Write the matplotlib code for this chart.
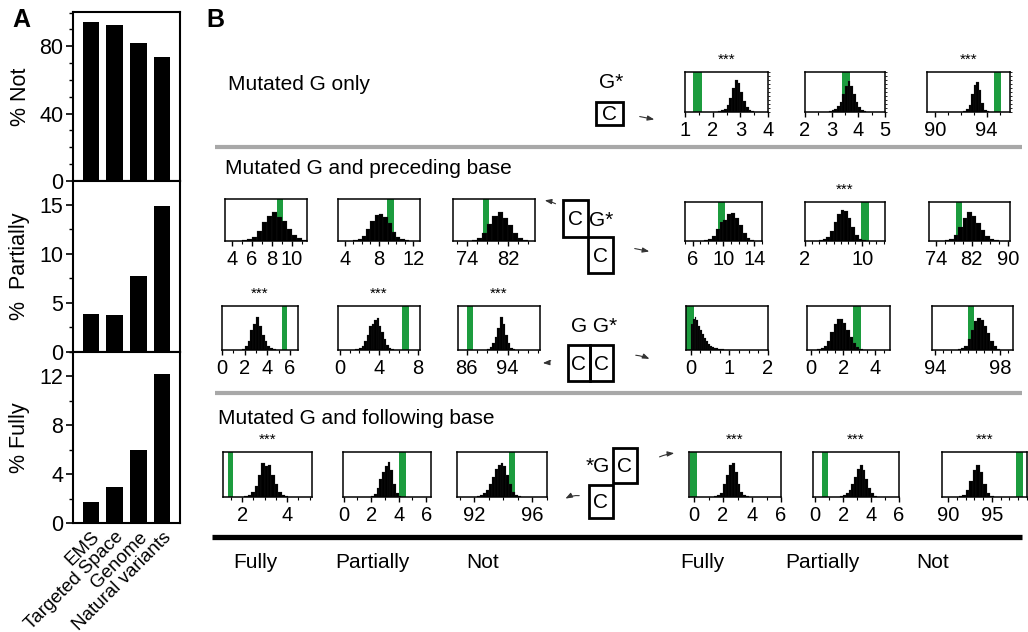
import numpy as np
import matplotlib
matplotlib.use('Agg')
import matplotlib.pyplot as plt
from matplotlib.ticker import MultipleLocator, FixedLocator
from matplotlib.patches import Rectangle

plt.rcParams['font.family'] = ['Liberation Sans', 'DejaVu Sans']

W, H = 1028, 632

# ---- panel A data ----
sources = ['EMS', 'Targeted Space', 'Genome', 'Natural variants']
pct_not = [94.6, 92.3, 81.9, 73.6]
pct_partially = [3.9, 3.8, 7.7, 14.9]
pct_fully = [1.7, 2.95, 5.96, 12.2]

# ---- panel B data: 21 null histograms + observed value band ----
# order: G only (right), CG* (left, right), GG* (left, right), *GC (left, right)
# each triple is Fully / Partially / Not
hist_start = [2.2, 2.9, 92.2,
              5.0, 5.0, 75, 7.5, 4.0, 76,
              1.75, 1.5, 90, 0.0, 0.4, 95.4,
              2.1, 2.0, 92.2, 1.4, 1.8, 91.2]
hist_width = [0.1, 0.1, 0.2,
              0.5, 0.5, 1, 0.5, 0.5, 1,
              0.25, 0.25, 0.5, 0.05, 0.2, 0.2,
              0.15, 0.2, 0.2, 0.2, 0.2, 0.4]
hist_counts = [
    [0.02, 0.04, 0.08, 0.18, 0.35, 0.6, 0.79, 0.72, 0.5, 0.28, 0.12, 0.04, 0.02],
    [0.02, 0.04, 0.08, 0.14, 0.26, 0.45, 0.65, 0.78, 0.66, 0.45, 0.26, 0.12, 0.05, 0.02],
    [0.03, 0.07, 0.18, 0.45, 0.68, 0.75, 0.55, 0.22, 0.06, 0.02],
    [0.03, 0.05, 0.1, 0.25, 0.45, 0.6, 0.68, 0.58, 0.48, 0.28, 0.15, 0.06, 0.02],
    [0.02, 0.05, 0.12, 0.28, 0.48, 0.62, 0.65, 0.58, 0.42, 0.22, 0.1, 0.04, 0.02],
    [0.03, 0.08, 0.2, 0.4, 0.6, 0.7, 0.55, 0.38, 0.2, 0.08, 0.03],
    [0.03, 0.05, 0.12, 0.3, 0.5, 0.55, 0.68, 0.72, 0.6, 0.4, 0.2, 0.08, 0.03],
    [0.02, 0.04, 0.1, 0.25, 0.5, 0.7, 0.8, 0.78, 0.6, 0.35, 0.15, 0.05, 0.02],
    [0.03, 0.06, 0.15, 0.35, 0.6, 0.75, 0.65, 0.45, 0.28, 0.12, 0.05, 0.02],
    [0.03, 0.08, 0.2, 0.45, 0.6, 0.75, 0.55, 0.35, 0.2, 0.1, 0.04, 0.02],
    [0.02, 0.03, 0.05, 0.1, 0.2, 0.35, 0.55, 0.6, 0.68, 0.72, 0.55, 0.4, 0.25, 0.12, 0.05, 0.02],
    [0.03, 0.06, 0.15, 0.3, 0.5, 0.75, 0.6, 0.35, 0.15, 0.05, 0.02],
    [0.6, 0.7, 0.75, 0.68, 0.55, 0.45, 0.36, 0.28, 0.2, 0.14, 0.1, 0.07, 0.05, 0.04,
     0.03, 0.02, 0.02, 0.01, 0.01, 0.01],
    [0.02, 0.04, 0.08, 0.2, 0.4, 0.6, 0.7, 0.7, 0.62, 0.45, 0.3, 0.15, 0.06, 0.03, 0.01],
    [0.02, 0.04, 0.1, 0.25, 0.45, 0.65, 0.72, 0.68, 0.55, 0.38, 0.2, 0.08, 0.03],
    [0.02, 0.05, 0.12, 0.25, 0.5, 0.75, 0.68, 0.72, 0.5, 0.3, 0.12, 0.05, 0.02],
    [0.03, 0.07, 0.2, 0.4, 0.55, 0.7, 0.78, 0.6, 0.3, 0.1, 0.03],
    [0.02, 0.04, 0.08, 0.15, 0.28, 0.45, 0.62, 0.72, 0.75, 0.7, 0.5, 0.3, 0.12, 0.04, 0.02],
    [0.02, 0.04, 0.1, 0.3, 0.5, 0.72, 0.75, 0.55, 0.3, 0.12, 0.04, 0.02],
    [0.02, 0.04, 0.08, 0.15, 0.3, 0.45, 0.62, 0.72, 0.6, 0.4, 0.2, 0.08, 0.03],
    [0.02, 0.05, 0.15, 0.35, 0.6, 0.72, 0.55, 0.3, 0.1, 0.03],
]
observed = [(1.28, 1.6), (3.38, 3.69), (94.6, 95.1),
            (8.5, 9.1), (8.94, 9.76), (77.2, 78.4), (9.3, 10.2), (9.9, 10.9), (78.5, 79.8),
            (5.3, 5.75), (6.4, 7.1), (86.0, 87.2), (-0.12, 0.08), (2.6, 3.1), (96.0, 96.4),
            (1.38, 1.6), (4.05, 4.5), (94.4, 94.8), (-0.27, 0.2), (0.5, 0.9), (97.7, 98.6)]
significant = [True, False, True,
               False, False, False, False, True, False,
               True, True, True, False, False, False,
               True, False, False, True, True, True]
x_ranges = [(1, 4), (2, 5), (89.4, 95.8),
            (3.3, 11.5), (3.2, 12.8), (71.3, 87.3), (5, 15), (2, 13.2), (72.5, 90.5),
            (0, 6.7), (-0.2, 8.2), (84.3, 100.3), (-0.12, 2.0), (-0.25, 4.9), (93.8, 98.8),
            (1.15, 5.1), (-0.05, 6.35), (90.8, 97.0), (-0.35, 5.95), (-0.15, 5.95), (89.3, 99.0)]
x_ticks = [[1, 2, 3, 4], [2, 3, 4, 5], [90, 94],
           [4, 6, 8, 10], [4, 8, 12], [74, 82], [6, 10, 14], [2, 10], [74, 82, 90],
           [0, 2, 4, 6], [0, 4, 8], [86, 94], [0, 1, 2], [0, 2, 4], [94, 98],
           [2, 4], [0, 2, 4, 6], [92, 96], [0, 2, 4, 6], [0, 2, 4, 6], [90, 95]]
minor_step = [0.5, 0.5, 1, 1, 1, 2, 1, 1, 2, 1, 1, 2, 0.25, 0.5, 0.5, 0.5, 1, 1, 1, 1, 1]

# ---- layout (pixels) ----
box_x = [(685, 768), (805, 885), (927, 1010),
         (225, 307), (338, 420), (453, 535), (685, 762), (805, 885), (929, 1010),
         (222, 298), (338, 420), (458, 540), (686, 768), (807, 890), (932, 1013),
         (223, 312), (343, 431), (457, 547), (689, 781), (813, 899), (942, 1027)]
box_y = [(72, 112)] * 3 + [(199, 241)] * 3 + [(202, 241)] * 3 + \
        [(306, 350)] * 6 + [(452, 497)] * 6

GREEN = '#1c9c3e'
GRAY = '#a8a8a8'


def px_rect(x0, x1, y0, y1):
    return [x0 / W, 1 - y1 / H, (x1 - x0) / W, (y1 - y0) / H]


fig = plt.figure(figsize=(W / 100, H / 100), dpi=100)

# overlay for annotation drawing in pixel coordinates
ov = fig.add_axes([0, 0, 1, 1])
ov.set_xlim(0, W)
ov.set_ylim(H, 0)
ov.axis('off')

# ---- panel A ----
xpos = np.arange(len(sources))
panelA = [(pct_not, (12, 181), 100.3, [0, 40, 80], 10, '% Not'),
          (pct_partially, (181, 352), 17.4, [0, 5, 10, 15], 2.5, '%  Partially'),
          (pct_fully, (352, 523), 14.0, [0, 4, 8, 12], 2, '% Fully')]
for i, (vals, (y0, y1), top, ticks, mstep, lab) in enumerate(panelA):
    ax = fig.add_axes(px_rect(73, 180, y0, y1))
    ax.bar(xpos, vals, width=0.69, color='black')
    ax.set_xlim(-0.75, 3.75)
    ax.set_ylim(0, top)
    ax.yaxis.set_major_locator(FixedLocator(ticks))
    ax.yaxis.set_minor_locator(MultipleLocator(mstep))
    ax.tick_params(axis='y', which='major', length=5, width=1.2, labelsize=15.5, pad=2)
    ax.tick_params(axis='y', which='minor', length=3, width=1)
    for s in ax.spines.values():
        s.set_linewidth(1.5)
    if i < 2:
        ax.set_xticks([])
    else:
        ax.set_xticks(xpos)
        ax.set_xticklabels(sources, rotation=45, ha='right', rotation_mode='anchor',
                           fontsize=13.5)
        ax.tick_params(axis='x', length=0, pad=4)
    ov.text(20, (y0 + y1) / 2, lab, rotation=90, ha='center', va='center', fontsize=15.5)

ov.text(12, 20, 'A', fontsize=18, fontweight='bold', ha='left', va='center')
ov.text(206, 20, 'B', fontsize=18, fontweight='bold', ha='left', va='center')

# ---- panel B histograms ----
for k in range(len(hist_counts)):
    ax = fig.add_axes(px_rect(box_x[k][0], box_x[k][1], box_y[k][0], box_y[k][1]))
    cnt = hist_counts[k]
    left = hist_start[k] + hist_width[k] * np.arange(len(cnt))
    ax.axvspan(observed[k][0], observed[k][1], color=GREEN, lw=0, zorder=1)
    ax.bar(left, cnt, width=hist_width[k], align='edge', color='black',
           edgecolor='#2a2a2a', linewidth=0.15, zorder=2)
    ax.set_xlim(*x_ranges[k])
    ax.set_ylim(0, 1)
    ax.set_xticks(x_ticks[k])
    ax.xaxis.set_minor_locator(MultipleLocator(minor_step[k]))
    ax.tick_params(axis='x', which='major', length=3.5, width=1, labelsize=14.5, pad=3)
    ax.tick_params(axis='x', which='minor', length=2, width=0.8)
    if k < 3:
        ax.yaxis.tick_right()
        ax.set_yticks([])
        ax.yaxis.set_minor_locator(MultipleLocator(0.1))
        ax.tick_params(axis='y', which='minor', length=1.5, width=0.6, right=True)
    else:
        ax.set_yticks([])
    for s in ax.spines.values():
        s.set_linewidth(1.1)
    if significant[k]:
        ov.text((box_x[k][0] + box_x[k][1]) / 2, box_y[k][0] - 12, '***',
                ha='center', va='center', fontsize=11)

# ---- row labels and separators ----
ov.text(228, 84, 'Mutated G only', fontsize=15, ha='left', va='center')
ov.text(225, 168, 'Mutated G and preceding base', fontsize=15, ha='left', va='center')
ov.text(218, 418, 'Mutated G and following base', fontsize=15, ha='left', va='center')
ov.plot([215, 1022], [147, 147], color=GRAY, lw=3, solid_capstyle='butt')
ov.plot([215, 1022], [393, 393], color=GRAY, lw=3, solid_capstyle='butt')
ov.plot([212, 1022], [537, 537], color='black', lw=3.8, solid_capstyle='butt')

for xc, lab in zip([255, 372, 483, 702, 822, 933],
                   ['Fully', 'Partially', 'Not', 'Fully', 'Partially', 'Not']):
    ov.text(xc, 563, lab, fontsize=15, ha='center', va='center')


# ---- sequence motifs ----
def base_box(x0, y0, x1, y1, letter):
    ov.add_patch(Rectangle((x0, y0), x1 - x0, y1 - y0, fill=False, lw=2.0,
                           edgecolor='black'))
    ov.text((x0 + x1) / 2, (y0 + y1) / 2 + 1, letter, fontsize=15,
            ha='center', va='center')


def arrow(x0, y0, x1, y1, rad=0.0):
    ov.annotate('', xy=(x1, y1), xytext=(x0, y0),
                arrowprops=dict(arrowstyle='-|>,head_length=0.4,head_width=0.15',
                                lw=0.8, color='#333333',
                                connectionstyle='arc3,rad=%s' % rad))


# G only
ov.text(611, 82, 'G*', fontsize=15, ha='center', va='center')
base_box(596, 102, 623, 125, 'C')
arrow(637, 116, 657, 120)

# preceding base CG*
base_box(563, 200, 588, 237, 'C')
ov.text(601, 220, 'G*', fontsize=15, ha='center', va='center')
base_box(588, 237, 613, 273, 'C')
arrow(558, 205, 542, 200, rad=0.1)
arrow(632, 248, 652, 252)

# preceding base GG*
ov.text(594, 327, 'G G*', fontsize=15, ha='center', va='center')
base_box(568, 345, 590, 381, 'C')
base_box(590, 345, 613, 381, 'C')
arrow(553, 359, 540, 363, rad=-0.2)
arrow(633, 355, 652, 360, rad=-0.1)

# following base *GC
ov.text(598, 467, '*G', fontsize=15, ha='center', va='center')
base_box(613, 448, 637, 483, 'C')
base_box(589, 485, 613, 518, 'C')
arrow(582, 496, 563, 500, rad=0.2)
arrow(657, 458, 677, 453, rad=-0.1)

fig.savefig('out.png', dpi=100)
